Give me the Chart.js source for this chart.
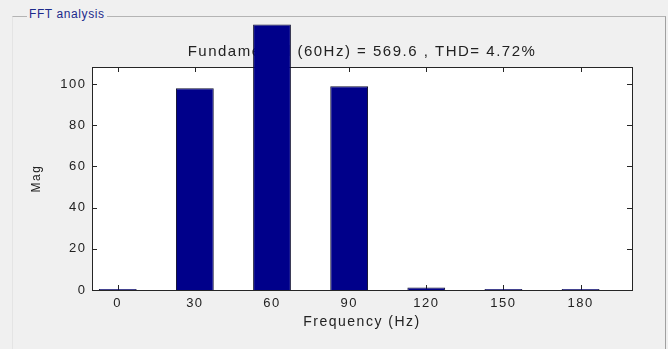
<!DOCTYPE html>
<html>
<head>
<meta charset="utf-8">
<script src="https://cdn.jsdelivr.net/npm/chart.js@4"></script>
<style>
  body { margin: 0; background: #f0f0f0; }
  #wrap { position: relative; width: 668px; height: 349px; overflow: hidden; }
  #frame { position: absolute; left: 12px; top: 16px; width: 652px; height: 340px;
           border-top: 1px solid #b4b4b4; border-right: 1px solid #a0a0a0; border-left: 1px solid #e4e4e4; }
  #legend { position: absolute; left: 27px; top: 7px; padding: 0 2px; background: #f0f0f0;
            font: 12px "Liberation Sans", Arial, sans-serif; letter-spacing: 0.6px; color: #1c2a8c; }
  canvas { position: absolute; left: 0; top: 0; }
</style>
</head>
<body>
<div id="wrap">
  <div id="frame"></div>
  <span id="legend">FFT analysis</span>
  <canvas id="fftChart" width="668" height="349"></canvas>
</div>
<script>
const freqs = [0, 30, 60, 90, 120, 150, 180];
const mags = [0.5, 98, 129, 99, 1.2, 0.5, 0.5];
const yTicks = [0, 20, 40, 60, 80, 100];
const titleText = 'Fundamental (60Hz) = 569.6 , THD= 4.72%';

const FONT = '"Liberation Sans", Arial, sans-serif';

// the reference text looks a bit stretched, widen it a little
const wideText = {
    id: 'wideText',
    beforeLayout(chart) { chart.ctx.letterSpacing = '1.5px'; },
    beforeDraw(chart) { chart.ctx.letterSpacing = '1.5px'; }
};

// white plot box, black frame and inward ticks like matlab
const axesBox = {
    id: 'axesBox',
    beforeDraw(chart) {
        const a = chart.chartArea, ctx = chart.ctx;
        ctx.save();
        ctx.fillStyle = '#ffffff';
        ctx.fillRect(a.left, a.top, a.right - a.left, a.bottom - a.top);
        ctx.restore();
    },
    beforeDatasetsDraw(chart) {
        const a = chart.chartArea, ctx = chart.ctx;
        const x = chart.scales.x, y = chart.scales.y;
        ctx.save();
        ctx.strokeStyle = '#262626';
        ctx.lineWidth = 1;
        ctx.strokeRect(a.left + 0.5, a.top + 0.5, a.right - a.left, a.bottom - a.top);
        ctx.beginPath();
        x.ticks.forEach(t => {
            const px = Math.round(x.getPixelForValue(t.value)) + 0.5;
            ctx.moveTo(px, a.bottom); ctx.lineTo(px, a.bottom - 5);
            ctx.moveTo(px, a.top); ctx.lineTo(px, a.top + 5);
        });
        y.ticks.forEach(t => {
            const py = Math.round(y.getPixelForValue(t.value)) + 0.5;
            ctx.moveTo(a.left, py); ctx.lineTo(a.left + 5, py);
            ctx.moveTo(a.right, py); ctx.lineTo(a.right - 5, py);
        });
        ctx.stroke();
        ctx.restore();
    }
};

const ctx = document.getElementById('fftChart').getContext('2d');
ctx.letterSpacing = '1.5px';
new Chart(ctx, {
    type: 'bar',
    data: {
        datasets: [{
            label: 'Mag',
            data: freqs.map((f, i) => ({ x: f, y: mags[i] })),
            backgroundColor: '#00008a',
            borderColor: '#101030',
            borderWidth: 1,
            barPercentage: 0.49,
            categoryPercentage: 1,
            clip: false
        }]
    },
    options: {
        responsive: false,
        animation: false,
        layout: { padding: { left: 0, right: 36, top: 0, bottom: 0 } },
        plugins: {
            legend: { display: false },
            tooltip: { enabled: false },
            title: {
                display: true,
                fullSize: false, // center over the plot box, not the canvas
                text: titleText,
                color: '#222',
                font: { family: FONT, size: 15, weight: 'normal' },
                padding: { top: 43, bottom: 6 }
            }
        },
        scales: {
            x: {
                type: 'linear',
                offset: false,
                min: -10,
                max: 200,
                afterBuildTicks: s => { s.ticks = freqs.map(v => ({ value: v })); },
                afterFit: s => { s.height = 59; },
                grid: { display: false, drawTicks: false },
                border: { display: false },
                ticks: { color: '#222', padding: 6, font: { family: FONT, size: 13 } },
                title: {
                    display: true, text: 'Frequency (Hz)', color: '#222',
                    font: { family: FONT, size: 14 },
                    padding: { top: 0, bottom: 18 }
                }
            },
            y: {
                min: 0,
                max: 108.3,
                afterBuildTicks: s => { s.ticks = yTicks.map(v => ({ value: v })); },
                afterFit: s => { s.width = 92; },
                grid: { display: false, drawTicks: false },
                border: { display: false },
                ticks: { color: '#222', padding: 5.5, font: { family: FONT, size: 13 } },
                title: {
                    display: true, text: 'Mag', color: '#222',
                    font: { family: FONT, size: 12 },
                    padding: { top: 29, bottom: 0 }
                }
            }
        }
    },
    plugins: [wideText, axesBox]
});
</script>
</body>
</html>
